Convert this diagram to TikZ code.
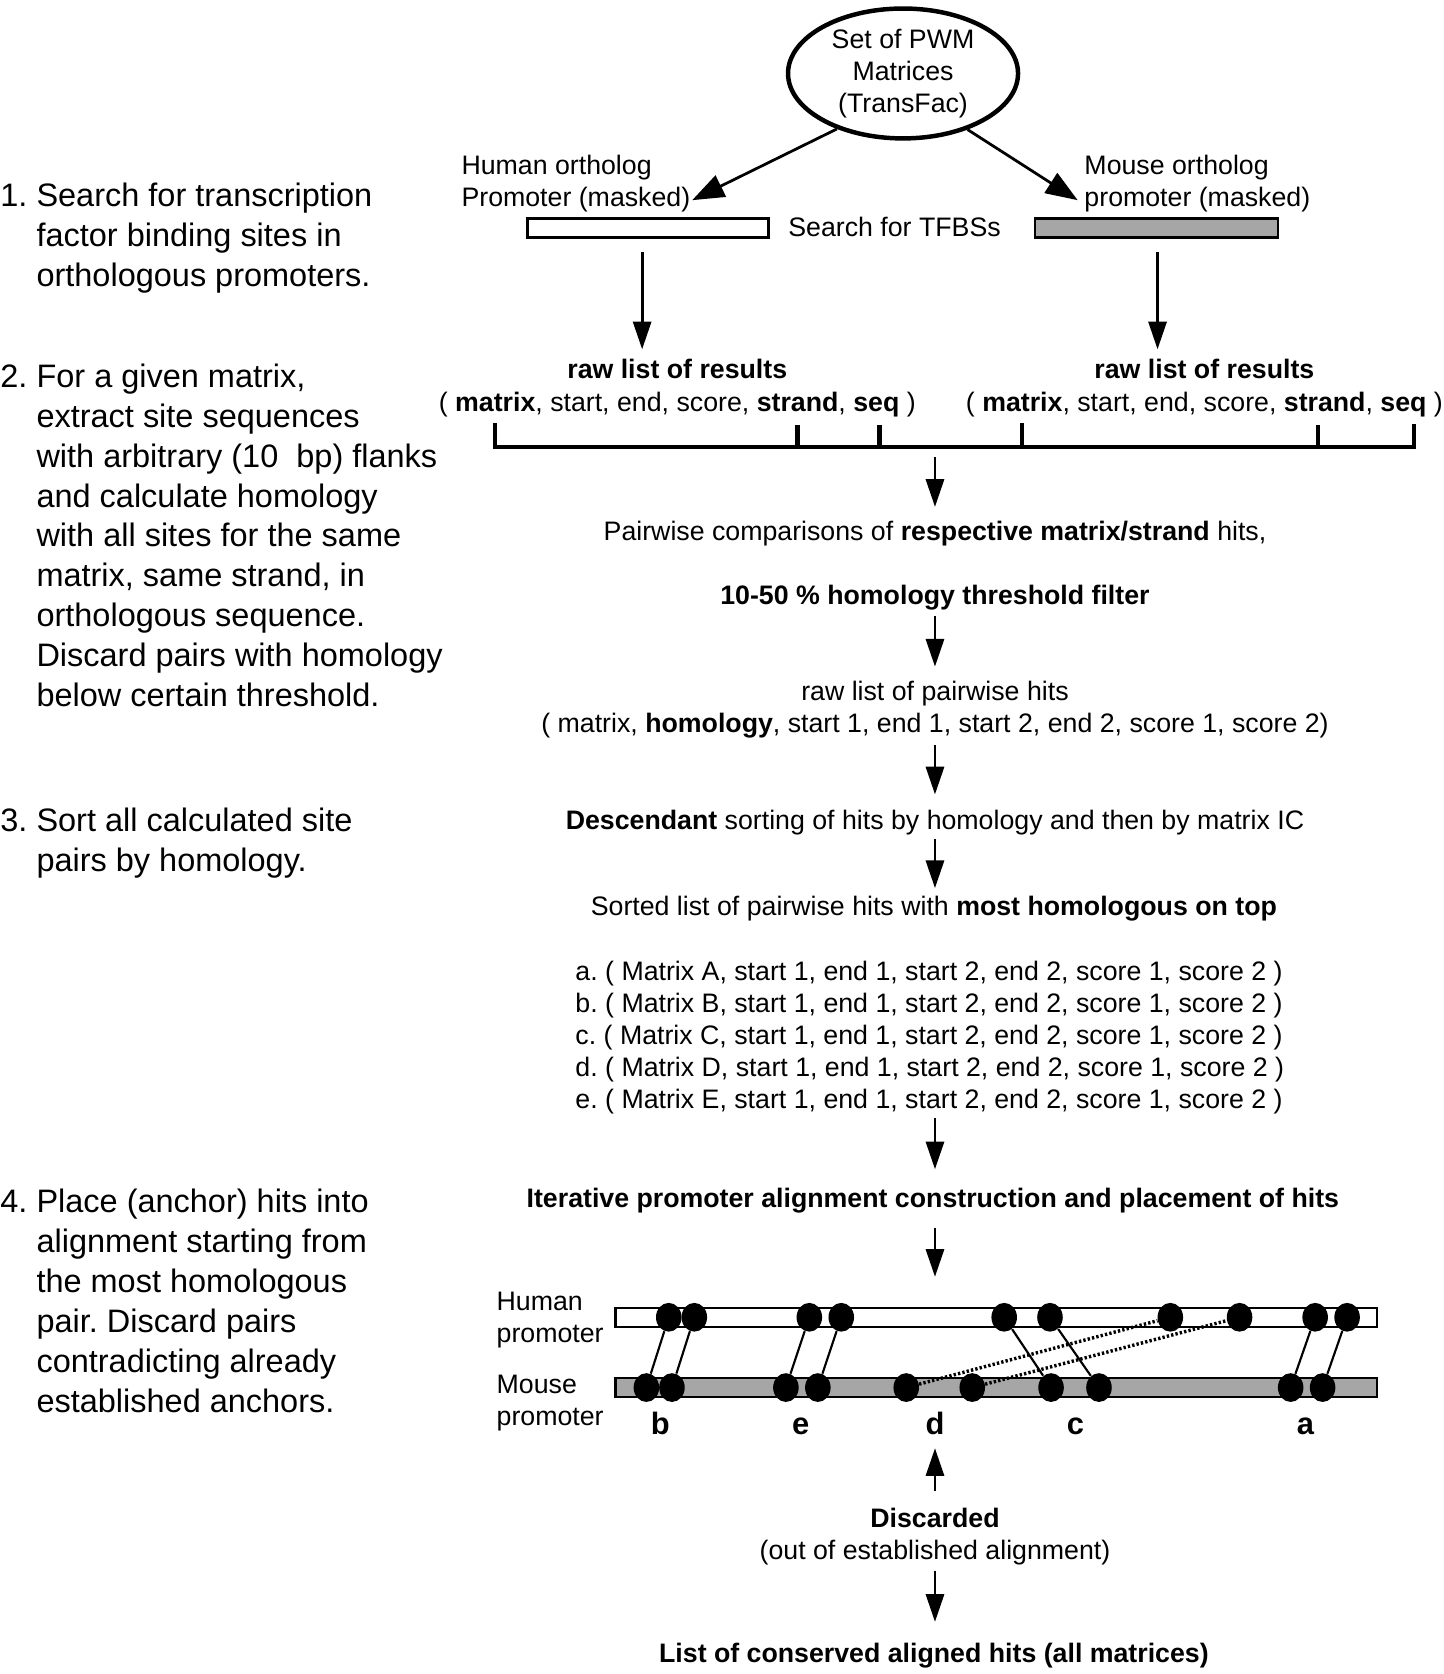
\documentclass[tikz,border=0pt]{standalone}
\usepackage{fontspec}
\setmainfont{Liberation Sans}
\usetikzlibrary{arrows.meta,shapes.geometric}
\frenchspacing
\definecolor{bargray}{gray}{0.65}
\begin{document}
\begin{tikzpicture}[x=0.5pt,y=-0.5pt,
  rt/.style={font=\fontsize{12.55}{15}\selectfont, inner sep=0pt, anchor=base},
  rtl/.style={rt, anchor=base west},
  lt/.style={font=\fontsize{15.25}{18.7}\selectfont, inner sep=0pt, anchor=base west},
  lab/.style={font=\fontsize{14.5}{17}\selectfont\bfseries, inner sep=0pt, anchor=base},
  arr/.style={line width=1.3pt, -{Triangle[length=13pt,width=8.5pt]}},
  bigarr/.style={line width=1.3pt, -{Triangle[length=15pt,width=11pt]}},
  bar/.style={draw=black, line width=1.3pt},
  abar/.style={draw=black, line width=1.1pt},
  dot/.style={ellipse, fill=black, minimum width=12pt, minimum height=13.5pt, inner sep=0pt},
  link/.style={line width=1pt},
  dlink/.style={line width=1.6pt, dash pattern=on 1.1pt off 1pt}]
\useasboundingbox (0,0) rectangle (1356,1572);
\fill[white] (0,0) rectangle (1356,1572);

% ---------- left column ----------
\node[lt] (step1) at (0,194) {\begin{tabular}[t]{@{}l@{}}1. Search for transcription\\
\hphantom{1. }factor binding sites in\\
\hphantom{1. }orthologous promoters.\end{tabular}};
\node[lt] (step2) at (0,364) {\begin{tabular}[t]{@{}l@{}}2. For a given matrix,\\
\hphantom{2. }extract site sequences\\
\hphantom{2. }with arbitrary (10\ \ bp) flanks\\
\hphantom{2. }and calculate homology\\
\hphantom{2. }with all sites for the same\\
\hphantom{2. }matrix, same strand, in\\
\hphantom{2. }orthologous sequence.\\
\hphantom{2. }Discard pairs with homology\\
\hphantom{2. }below certain threshold.\end{tabular}};
\node[lt] (step3) at (0,781) {\begin{tabular}[t]{@{}l@{}}3. Sort all calculated site\\
\hphantom{3. }pairs by homology.\end{tabular}};
\node[lt] (step4) at (0,1139) {\begin{tabular}[t]{@{}l@{}}4. Place (anchor) hits into\\
\hphantom{4. }alignment starting from\\
\hphantom{4. }the most homologous\\
\hphantom{4. }pair. Discard pairs\\
\hphantom{4. }contradicting already\\
\hphantom{4. }established anchors.\end{tabular}};

% ---------- top ----------
\node[ellipse, draw, line width=2.1pt, minimum width=108pt, minimum height=61pt, inner sep=0pt,
  align=center, font=\fontsize{12.55}{15}\selectfont] (pwm) at (848,69) {Set of PWM\\Matrices\\(TransFac)};
\node[rtl] (hol1) at (433,164) {Human ortholog};
\node[rtl] (hol2) at (433,194) {Promoter (masked)};
\node[rtl] (mol1) at (1018,164) {Mouse ortholog};
\node[rtl] (mol2) at (1018,194) {promoter (masked)};
\node[rt] (search) at (840,222) {Search for TFBSs};
\draw[bar, fill=white] (495,205) rectangle (722,223);
\draw[bar, fill=bargray] (972,205) rectangle (1200,223);
\coordinate (htip) at (650,188);
\coordinate (mtip) at (1012,188);
\draw[bigarr] (pwm.220) -- (htip);
\draw[bigarr] (pwm.-41) -- (mtip);

\coordinate (hdA) at (603,237); \coordinate (hdB) at (603,328);
\coordinate (mdA) at (1087,237); \coordinate (mdB) at (1087,328);
\draw[arr] (hdA) -- (hdB);
\draw[arr] (mdA) -- (mdB);

\node[rt] (rawL) at (636,355) {\textbf{raw list of results}};
\node[rt] (tupL) at (636,386) {( \textbf{matrix}, start, end, score, \textbf{strand}, \textbf{seq} )};
\node[rt] (rawR) at (1131,355) {\textbf{raw list of results}};
\node[rt] (tupR) at (1131,386) {( \textbf{matrix}, start, end, score, \textbf{strand}, \textbf{seq} )};

% bracket
\draw[line width=2.1pt, line join=miter] (465,397) -- (465,420) -- (1328,420) -- (1328,398);
\foreach \tx/\ty in {749/399,826/399,960/397,1238/399}
  \draw[line width=2pt] (\tx,420) -- (\tx,\ty);

% ---------- centre column ----------
\coordinate (a1s) at (878,429); \coordinate (a1e) at (878,476);
\draw[arr] (a1s) -- (a1e);
\node[rt] (pairwise) at (878,508) {Pairwise comparisons of \textbf{respective matrix/strand} hits,};
\node[rt] (filter) at (878,568) {\textbf{10-50 \% homology threshold filter}};
\coordinate (a2s) at (878,578); \coordinate (a2e) at (878,626);
\draw[arr] (a2s) -- (a2e);
\node[rt] (rawpair) at (878,658) {raw list of pairwise hits};
\node[rt] (tuppair) at (878,688) {( matrix, \textbf{homology}, start 1, end 1, start 2, end 2, score 1, score 2)};
\coordinate (a3s) at (878,700); \coordinate (a3e) at (878,746);
\draw[arr] (a3s) -- (a3e);
\node[rt] (sorting) at (878,779) {\textbf{Descendant} sorting of hits by homology and then by matrix IC};
\coordinate (a4s) at (878,788); \coordinate (a4e) at (878,834);
\draw[arr] (a4s) -- (a4e);
\node[rt] (sorted) at (877,860) {Sorted list of pairwise hits with \textbf{most homologous on top}};
\node[rtl] (list) at (540,921) {\begin{tabular}[t]{@{}l@{}}a. ( Matrix A, start 1, end 1, start 2, end 2, score 1, score 2 )\\
b. ( Matrix B, start 1, end 1, start 2, end 2, score 1, score 2 )\\
c. ( Matrix C, start 1, end 1, start 2, end 2, score 1, score 2 )\\
d. ( Matrix D, start 1, end 1, start 2, end 2, score 1, score 2 )\\
e. ( Matrix E, start 1, end 1, start 2, end 2, score 1, score 2 )\end{tabular}};
\coordinate (a5s) at (878,1050); \coordinate (a5e) at (878,1098);
\draw[arr] (a5s) -- (a5e);
\node[rt] (iter) at (876,1134) {\textbf{Iterative promoter alignment construction and placement of hits}};
\coordinate (a6s) at (878,1153); \coordinate (a6e) at (878,1199);
\draw[arr] (a6s) -- (a6e);

% ---------- alignment ----------
\node[rtl] (hum1) at (466,1231) {Human};
\node[rtl] (hum2) at (466,1261) {promoter};
\node[rtl] (mou1) at (466,1309) {Mouse};
\node[rtl] (mou2) at (466,1339) {promoter};
\draw[abar, fill=white] (578,1228) rectangle (1293,1246);
\draw[abar, fill=bargray] (578,1294) rectangle (1293,1312);
\foreach \n/\x in {1/628,2/652,3/760,4/790,5/943,6/986,7/1099,8/1164,9/1235,10/1265}
  \node[dot] (h\n) at (\x,1237) {};
\foreach \n/\x in {1/607,2/631,3/738,4/768,5/851,6/913,7/987,8/1032,9/1212,10/1242}
  \node[dot] (m\n) at (\x,1303) {};
\foreach \a/\b in {1/1,2/2,3/3,4/4,5/7,6/8,9/9,10/10}
  \draw[link] (h\a) -- (m\b);
\draw[dlink] (m5) -- (h7);
\draw[dlink] (m6) -- (h8);
\node[lab] (lb) at (620,1347) {b};
\node[lab] (le) at (752,1347) {e};
\node[lab] (ld) at (878,1347) {d};
\node[lab] (lc) at (1010,1347) {c};
\node[lab] (la) at (1226,1347) {a};

\coordinate (a7s) at (878,1400); \coordinate (a7e) at (878,1360);
\draw[arr] (a7s) -- (a7e);
\node[rt] (disc) at (878,1434) {\textbf{Discarded}};
\node[rt] (out) at (878,1464) {(out of established alignment)};
\coordinate (a8s) at (878,1475); \coordinate (a8e) at (878,1523);
\draw[arr] (a8s) -- (a8e);
\node[rt] (final) at (877,1561) {\textbf{List of conserved aligned hits (all matrices)}};
\end{tikzpicture}
\end{document}
